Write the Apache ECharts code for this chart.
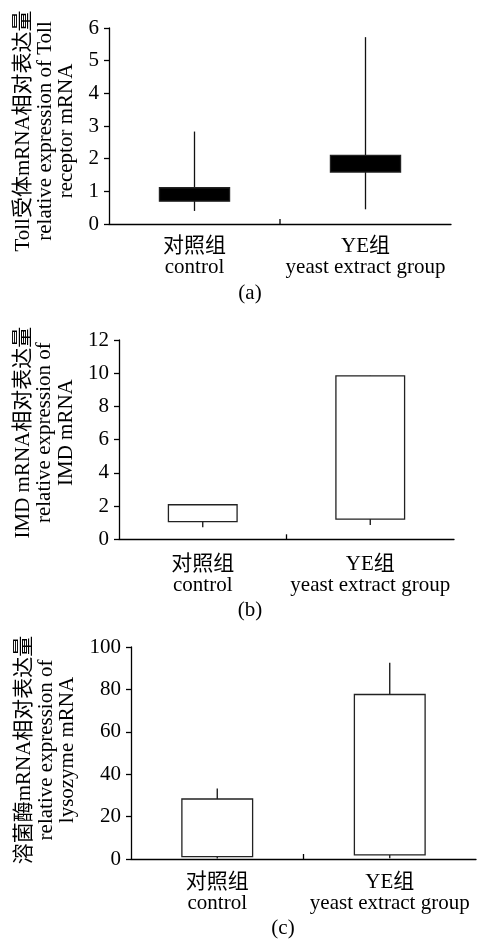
<!DOCTYPE html>
<html>
<head>
<meta charset="utf-8">
<script src="https://cdn.jsdelivr.net/npm/echarts@6/dist/echarts.min.js"></script>
<style>html,body{margin:0;padding:0;background:#fff;}#c{width:477px;height:942px;}</style>
</head>
<body>
<div id="c"></div>
<script>
// categories
const categories = ['对照组\ncontrol', 'YE组\nyeast extract group'];
// each row: [low whisker, box low, box high, high whisker]
const tollValues = [[0.40, 0.70, 1.11, 2.83], [0.45, 1.59, 2.10, 5.72]];
const imdValues = [[0.72, 1.06, 2.08, 2.08], [0.86, 1.22, 9.84, 9.84]];
const lysoValues = [[0.2, 1.1, 28.3, 33.3], [0.3, 1.9, 77.6, 92.6]];
// axis titles
const yNames = [
  'Toll受体mRNA相对表达量\nrelative expression of Toll\nreceptor mRNA',
  'IMD mRNA相对表达量\nrelative expression of\nIMD mRNA',
  '溶菌酶mRNA相对表达量\nrelative expression of\nlysozyme mRNA'
];
const panelLabels = ['(a)', '(b)', '(c)'];
const yMax = [6, 12, 100];
const yStep = [1, 2, 20];

const FONT = "'Liberation Serif', 'Noto Sans CJK SC', serif";

function makeRender(fill) {
  return function (params, api) {
    const x = api.value(0);
    const pLow = api.coord([x, api.value(1)]);
    const pBL = api.coord([x, api.value(2)]);
    const pBH = api.coord([x, api.value(3)]);
    const pHigh = api.coord([x, api.value(4)]);
    const w = api.size([1, 0])[0] * 0.41;
    const children = [
      {type: 'line', shape: {x1: pLow[0], y1: pLow[1], x2: pHigh[0], y2: pHigh[1]},
       style: {stroke: '#111', lineWidth: 1.3}},
      {type: 'rect', shape: {x: pBL[0] - w / 2, y: pBH[1], width: w, height: pBL[1] - pBH[1]},
       style: {fill: fill, stroke: '#222', lineWidth: 1.3}}
    ];
    if (params.dataIndex === 0) {
      // category boundary tick between the two groups
      const a = api.coord([0, 0]);
      const b = api.coord([1, 0]);
      const mx = (a[0] + b[0]) / 2;
      children.push({type: 'line', shape: {x1: mx, y1: a[1], x2: mx, y2: a[1] - 5},
        style: {stroke: '#000', lineWidth: 1.3}});
    }
    return {type: 'group', children: children};
  };
}

const grids = [
  {left: 109, right: 26, top: 28, height: 196, outerBoundsMode: 'none'},
  {left: 119, right: 23, top: 340, height: 199.3, outerBoundsMode: 'none'},
  {left: 131, right: 1, top: 647, height: 212, outerBoundsMode: 'none'}
];
const nameGaps = [30, 37, 47];
const namePads = [[0, 10, 0, 0], [0, 0, 0, 14], [0, 0, 0, 6]];
const labelMargins = [12, 15, 13];
const datasets = [tollValues, imdValues, lysoValues];
const fills = ['#000', '#fff', '#fff'];

const option = {
  animation: false,
  backgroundColor: '#fff',
  grid: grids,
  xAxis: grids.map((g, i) => ({
    type: 'category', gridIndex: i, data: categories,
    axisLine: {lineStyle: {color: '#000', width: 1.3}},
    axisTick: {show: false},
    axisLabel: {interval: 0, fontFamily: FONT, fontSize: 21, lineHeight: 21, color: '#000', margin: labelMargins[i]}
  })),
  yAxis: grids.map((g, i) => ({
    type: 'value', gridIndex: i, min: 0, max: yMax[i], interval: yStep[i],
    splitLine: {show: false},
    axisLine: {show: true, lineStyle: {color: '#000', width: 1.3}},
    axisTick: {show: true, length: 5, lineStyle: {color: '#000', width: 1.3}},
    axisLabel: {fontFamily: FONT, fontSize: 21, color: '#000', margin: 10},
    name: yNames[i], nameLocation: 'middle', nameRotate: 90, nameGap: nameGaps[i],
    nameTextStyle: {fontFamily: FONT, fontSize: 21, lineHeight: 21.5, color: '#000', align: 'center', padding: namePads[i]}
  })),
  series: datasets.map((d, i) => ({
    type: 'custom', xAxisIndex: i, yAxisIndex: i,
    renderItem: makeRender(fills[i]),
    encode: {x: 0, y: [1, 2, 3, 4]},
    data: d.map((r, k) => [k].concat(r))
  })),
  graphic: [
    {type: 'text', x: 250, y: 293, style: {text: panelLabels[0], font: "21px " + FONT, fill: '#000', align: 'center', verticalAlign: 'middle'}},
    {type: 'text', x: 250, y: 610, style: {text: panelLabels[1], font: "21px " + FONT, fill: '#000', align: 'center', verticalAlign: 'middle'}},
    {type: 'text', x: 283, y: 928, style: {text: panelLabels[2], font: "21px " + FONT, fill: '#000', align: 'center', verticalAlign: 'middle'}}
  ]
};
const chart = echarts.init(document.getElementById('c'), null, {renderer: 'canvas'});
chart.setOption(option);
</script>
</body>
</html>
